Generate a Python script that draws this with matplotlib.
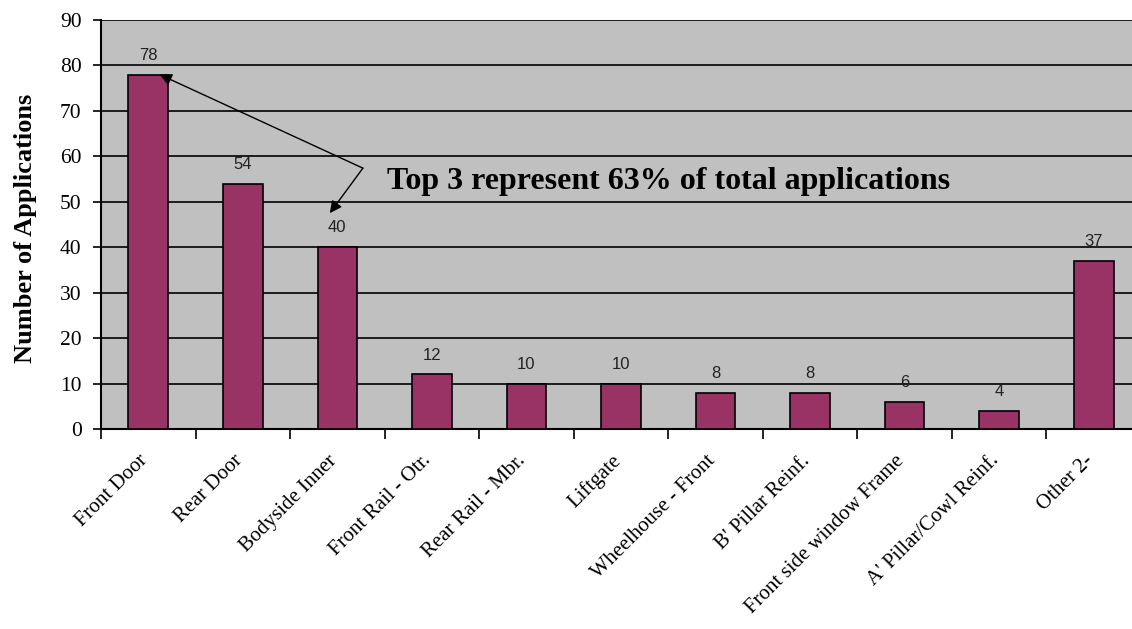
import matplotlib
matplotlib.use("Agg")
import matplotlib.pyplot as plt
import matplotlib.transforms as mtransforms
from matplotlib.ticker import MultipleLocator

categories = ["Front Door", "Rear Door", "Bodyside Inner", "Front Rail - Otr.",
              "Rear Rail - Mbr.", "Liftgate", "Wheelhouse - Front", "B' Pillar Reinf.",
              "Front side window Frame", "A' Pillar/Cowl Reinf.", "Other 2-"]
values = [78, 54, 40, 12, 10, 10, 8, 8, 6, 4, 37]
y_ticks = [0, 10, 20, 30, 40, 50, 60, 70, 80, 90]
annotation_text = "Top 3 represent 63% of total applications"
y_label = "Number of Applications"

fig = plt.figure(figsize=(11.32, 6.29), dpi=100)
ax = fig.add_axes([101/1132, 200/629, 1040/1132, 409/629])
ax.set_facecolor("#C0C0C0")

x = list(range(len(categories)))
ax.bar(x, values, width=0.42, color="#993366", edgecolor="black", linewidth=1.2, zorder=3)

for xi, v in zip(x, values):
    ax.annotate(str(v), (xi, v), xytext=(0, 8.5), textcoords="offset points",
                ha="center", va="bottom", fontsize=12, family="Liberation Sans",
                color="#222222", zorder=4)

ax.set_xlim(-0.5, len(categories) - 0.5)
ax.set_ylim(0, 90)
ax.set_yticks(y_ticks)
ax.set_yticklabels([str(t) for t in y_ticks], family="Liberation Serif", fontsize=15.5)
ax.yaxis.grid(True, color="black", linewidth=1.2, zorder=1)
ax.set_axisbelow(True)

ax.set_xticks(x)
ax.set_xticklabels(categories, rotation=45, ha="right", va="top",
                   rotation_mode="anchor", family="Liberation Serif", fontsize=15)
ax.tick_params(axis="x", which="major", length=0, pad=16)
shift = mtransforms.ScaledTranslation(-10/100, 0, fig.dpi_scale_trans)
for lbl in ax.get_xticklabels():
    lbl.set_transform(lbl.get_transform() + shift)
ax.xaxis.set_minor_locator(MultipleLocator(1, offset=0.5))
ax.tick_params(axis="x", which="minor", length=7, width=1.2, direction="out")
ax.tick_params(axis="y", length=6, width=1.2, direction="out", pad=8)

for s in ["top", "right"]:
    ax.spines[s].set_visible(False)
for s in ["left", "bottom"]:
    ax.spines[s].set_linewidth(1.5)

ax.set_ylabel(y_label, family="Liberation Serif", fontweight="bold", fontsize=19)
ax.yaxis.set_label_coords(-0.062, 0.49)

# annotation: bent arrow from text to first and third bars
vertex = (2.27, 57.4)
ax.annotate("", xy=(0.12, values[0]), xytext=vertex,
            arrowprops=dict(arrowstyle="-|>", color="black", lw=1.0, mutation_scale=18,
                            shrinkA=0, shrinkB=0), zorder=5)
ax.annotate("", xy=(1.92, values[2] + 7.5), xytext=vertex,
            arrowprops=dict(arrowstyle="-|>", color="black", lw=1.0, mutation_scale=18,
                            shrinkA=0, shrinkB=0), zorder=5)
ax.text(2.53, 54.5, annotation_text, family="Liberation Serif", fontweight="bold",
        fontsize=23, ha="left", va="center", zorder=5)

fig.savefig("out.png", dpi=100)
